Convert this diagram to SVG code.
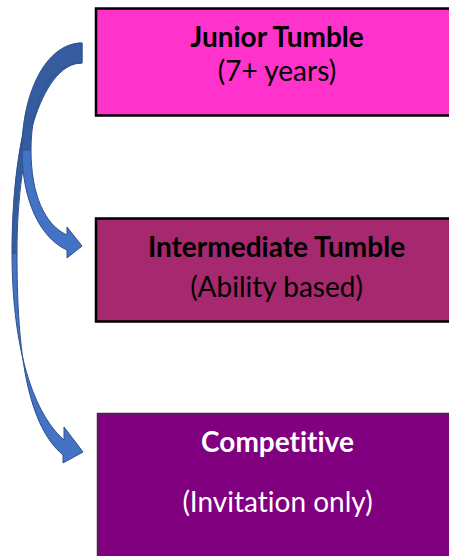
<svg xmlns="http://www.w3.org/2000/svg" width="449" height="556" viewBox="0 0 449 556">
<style>
.t{font-family:Lato,"Open Sans",sans-serif;font-size:28px;text-anchor:middle;font-variant-ligatures:none}
.b{font-weight:bold}
.dk{fill:#000}
.wh{fill:#fff}
.back{fill:#355C9E;stroke:#2F528F;stroke-width:1}
.front{fill:#4472C4;stroke:#2F528F;stroke-width:1}
</style>
<g id="connectors">
<g id="arrow-to-competitive">
<path class="back" d="M82,43 C40,43 12,130 12,253 L17,253 C17,140 45,63 82,63 Z"/>
<path class="front" d="M12,253 C12,340 30,410 64,440 L64,427 L83,452 L63,463 L63,455 C24,422 17,340 17,253 Z"/>
</g>
<g id="arrow-to-intermediate">
<path class="back" d="M82,43 C45,43 22,95 22,150 L31,150 C31,100 50,63 82,63 Z"/>
<path class="front" d="M22,150 C22,200 40,238 67,250 L67,258 L82,246 L67,227 L67,235 C45,225 31,195 31,150 Z"/>
</g>
</g>
<g id="junior">
<rect x="96" y="8.5" width="360" height="107" fill="#FF33CC" stroke="#000" stroke-width="2.5"/>
<text class="t b dk" x="277" y="47">Junior Tumble</text>
<text class="t dk" x="277" y="81">(7+ years)</text>
</g>
<g id="intermediate">
<rect x="96" y="218.5" width="360" height="103" fill="#A6286E" stroke="#000" stroke-width="2.5"/>
<text class="t b dk" x="276.5" y="257">Intermediate Tumble</text>
<text class="t dk" x="276.5" y="297">(Ability based)</text>
</g>
<g id="competitive">
<rect x="97.5" y="413.5" width="360" height="160" fill="#800080" stroke="#333" stroke-width="1.5"/>
<text class="t b wh" x="277.5" y="452">Competitive</text>
<text class="t wh" x="277.5" y="512">(Invitation only)</text>
</g>
</svg>
